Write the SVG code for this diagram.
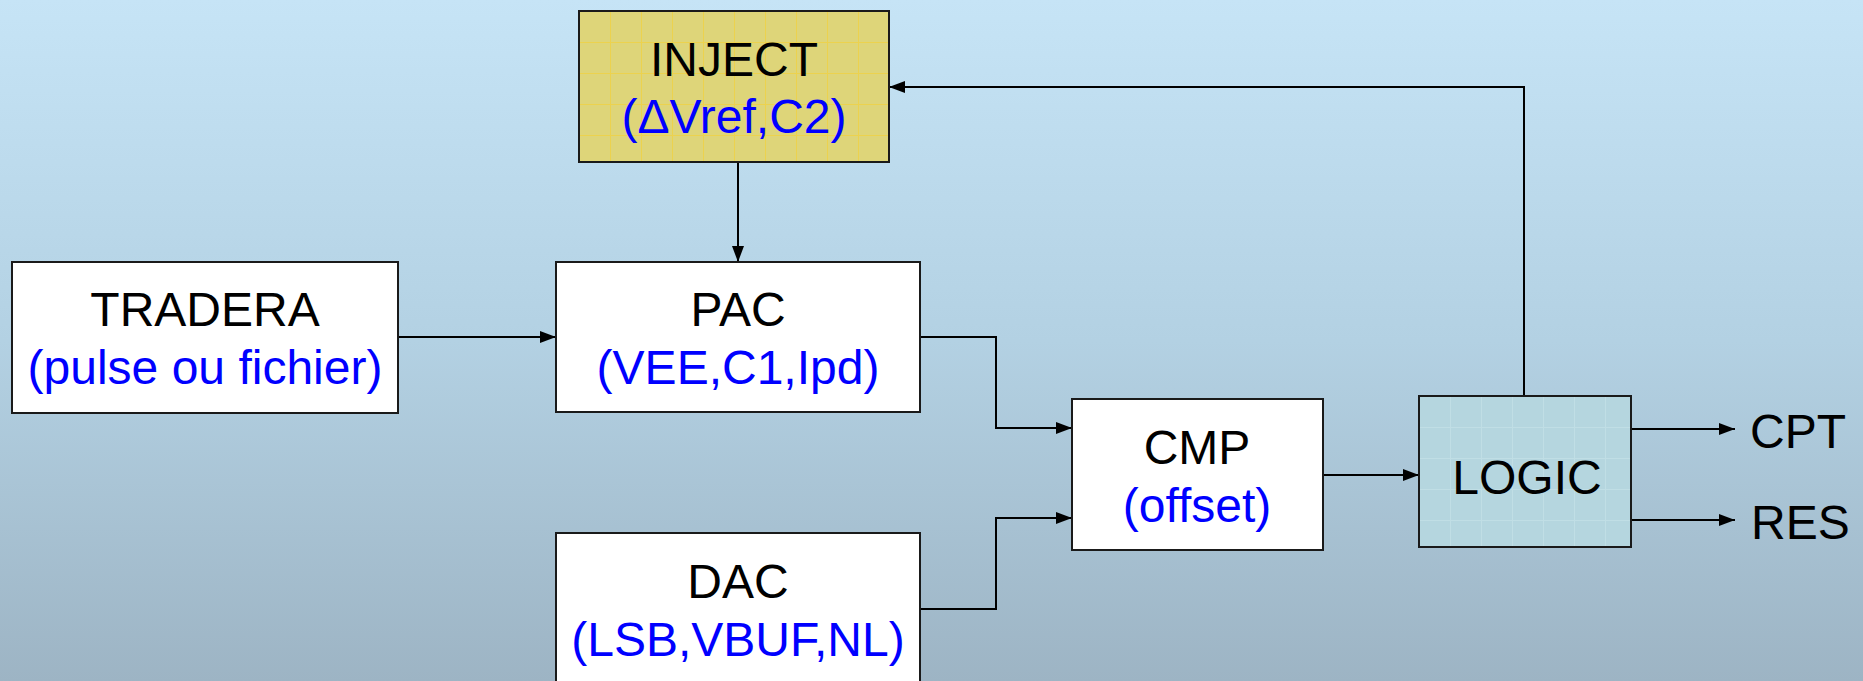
<svg xmlns="http://www.w3.org/2000/svg" width="1863" height="681" viewBox="0 0 1863 681">
  <defs>
    <linearGradient id="bg" x1="0" y1="0" x2="0" y2="1">
      <stop offset="0" stop-color="#c6e4f6"/>
      <stop offset="0.5" stop-color="#b3d1e3"/>
      <stop offset="1" stop-color="#9db4c4"/>
    </linearGradient>
    <pattern id="gridY" x="579" y="11" width="31" height="31" patternUnits="userSpaceOnUse">
      <rect width="31" height="31" fill="#ded579"/>
      <path d="M0.5,0 V31 M0,0.5 H31" stroke="#f2d23c" stroke-width="1" opacity="0.7"/>
    </pattern>
    <pattern id="gridB" x="1419" y="396" width="31" height="31" patternUnits="userSpaceOnUse">
      <rect width="31" height="31" fill="#b5d6df"/>
      <path d="M0.5,0 V31 M0,0.5 H31" stroke="#c8e2ea" stroke-width="1" opacity="0.6"/>
    </pattern>
    <marker id="arr" markerUnits="userSpaceOnUse" markerWidth="17" markerHeight="13" refX="16" refY="6" orient="auto">
      <path d="M0,0 L16,6 L0,12 z" fill="#000"/>
    </marker>
  </defs>
  <style>
    .box { stroke: #1a1a1a; stroke-width: 2; }
    .w { fill: #ffffff; }
    .t { font-family: "Liberation Sans", Arial, sans-serif; font-size: 48px; fill: #000; }
    .c { text-anchor: middle; }
    .b { fill: #0000ff; }
    .con { fill: none; stroke: #000; stroke-width: 2; marker-end: url(#arr); }
  </style>
  <rect x="0" y="0" width="1863" height="681" fill="url(#bg)"/>

  <g id="connectors">
    <path class="con" d="M398,337 H556"/>
    <path class="con" d="M738,162 V262"/>
    <path class="con" d="M920,337 H996 V428 H1072"/>
    <path class="con" d="M920,609 H996 V518 H1072"/>
    <path class="con" d="M1323,475 H1419"/>
    <path class="con" d="M1524,396 V87 H889"/>
    <path class="con" d="M1631,429 H1735"/>
    <path class="con" d="M1631,520 H1735"/>
  </g>

  <g id="inject">
    <rect class="box" x="579" y="11" width="310" height="151" fill="url(#gridY)"/>
    <text class="t c" x="734" y="76">INJECT</text>
    <text class="t c b" x="734" y="133">(ΔVref,C2)</text>
  </g>

  <g id="tradera">
    <rect class="box w" x="12" y="262" width="386" height="151"/>
    <text class="t c" x="205" y="326">TRADERA</text>
    <text class="t c b" x="205" y="384">(pulse ou fichier)</text>
  </g>

  <g id="pac">
    <rect class="box w" x="556" y="262" width="364" height="150"/>
    <text class="t c" x="738" y="326">PAC</text>
    <text class="t c b" x="738" y="384">(VEE,C1,Ipd)</text>
  </g>

  <g id="cmp">
    <rect class="box w" x="1072" y="399" width="251" height="151"/>
    <text class="t c" x="1197" y="464">CMP</text>
    <text class="t c b" x="1197" y="522">(offset)</text>
  </g>

  <g id="logic">
    <rect class="box" x="1419" y="396" width="212" height="151" fill="url(#gridB)"/>
    <text class="t c" x="1527" y="494">LOGIC</text>
  </g>

  <g id="dac">
    <rect class="box w" x="556" y="533" width="364" height="170"/>
    <text class="t c" x="738" y="598">DAC</text>
    <text class="t c b" x="738" y="656">(LSB,VBUF,NL)</text>
  </g>

  <g id="cpt">
    <text class="t" x="1750" y="448">CPT</text>
  </g>
  <g id="res">
    <text class="t" x="1751" y="539">RES</text>
  </g>
</svg>
